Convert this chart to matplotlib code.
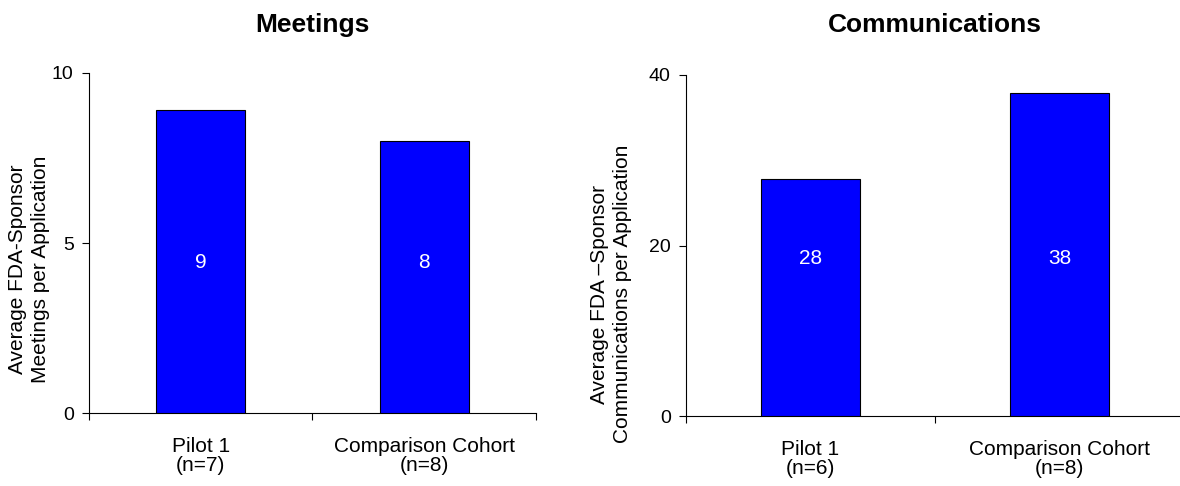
import matplotlib
matplotlib.use("Agg")
import matplotlib.pyplot as plt
from matplotlib.ticker import FixedLocator, NullFormatter, FixedFormatter
import matplotlib.transforms as mtransforms

plt.rcParams['font.family'] = ['Liberation Sans', 'DejaVu Sans']

# Data
categories_meet = ["Pilot 1\n(n=7)", "Comparison Cohort\n(n=8)"]
meetings = [8.9, 8.0]
categories_comm = ["Pilot 1\n(n=6)", "Comparison Cohort\n(n=8)"]
communications = [27.8, 37.9]

meet_yticks = [0, 5, 10]
comm_yticks = [0, 20, 40]

BLUE = "#0000FF"

fig = plt.figure(figsize=(11.8, 4.86), dpi=100)
ax1 = fig.add_axes([0.0754, 0.1502, 0.3788, 0.6996])
ax2 = fig.add_axes([0.5814, 0.1440, 0.4220, 0.7017])


def draw(ax, cats, vals, yticks, ylabel_text, title, title_x, ylabel_x, ylabel_y, label_frac):
    n = len(cats)
    xs = list(range(n))
    ax.bar(xs, vals, width=0.4, color=BLUE, edgecolor="black", linewidth=0.8, zorder=3)
    ax.set_xlim(-0.5, n - 0.5)
    ax.set_ylim(yticks[0], yticks[-1])
    ax.set_yticks(yticks)
    ax.tick_params(axis="y", direction="out", length=5, width=0.8, pad=6,
                   labelsize=14, colors="black")
    # boundary ticks between categories, labels at category centres
    ax.xaxis.set_major_locator(FixedLocator([i - 0.5 for i in range(n + 1)]))
    ax.xaxis.set_major_formatter(NullFormatter())
    ax.xaxis.set_minor_locator(FixedLocator(xs))
    ax.xaxis.set_minor_formatter(FixedFormatter(cats))
    ax.tick_params(axis="x", which="major", direction="out", length=5, width=0.8)
    ax.tick_params(axis="x", which="minor", length=0, pad=17, labelsize=15)
    for lbl in ax.xaxis.get_minorticklabels():
        lbl.set_linespacing(1.0)
    for spine in ("top", "right"):
        ax.spines[spine].set_visible(False)
    for spine in ("left", "bottom"):
        ax.spines[spine].set_linewidth(0.8)
        ax.spines[spine].set_color("black")
    trans = mtransforms.blended_transform_factory(ax.transData, ax.transAxes)
    for x, v in zip(xs, vals):
        ax.text(x, label_frac, f"{v:.0f}", transform=trans, ha="center", va="center",
                color="white", fontsize=15, zorder=4)
    fig.text(title_x, 1 - 25 / 486, title, ha="center", va="center",
             fontsize=19, fontweight="bold")
    fig.text(ylabel_x, ylabel_y, ylabel_text, rotation=90, ha="center", va="center",
             multialignment="center", fontsize=15, linespacing=1.3)


draw(ax1, categories_meet, meetings, meet_yticks,
     "Average FDA-Sponsor\nMeetings per Application", "Meetings",
     312 / 1180, 29 / 1180, 1 - 269 / 486, 0.444)
draw(ax2, categories_comm, communications, comm_yticks,
     "Average FDA \u2013Sponsor\nCommunications per Application", "Communications",
     935 / 1180, 611 / 1180, 1 - 294 / 486, 0.462)

fig.savefig("out.png", dpi=100)
